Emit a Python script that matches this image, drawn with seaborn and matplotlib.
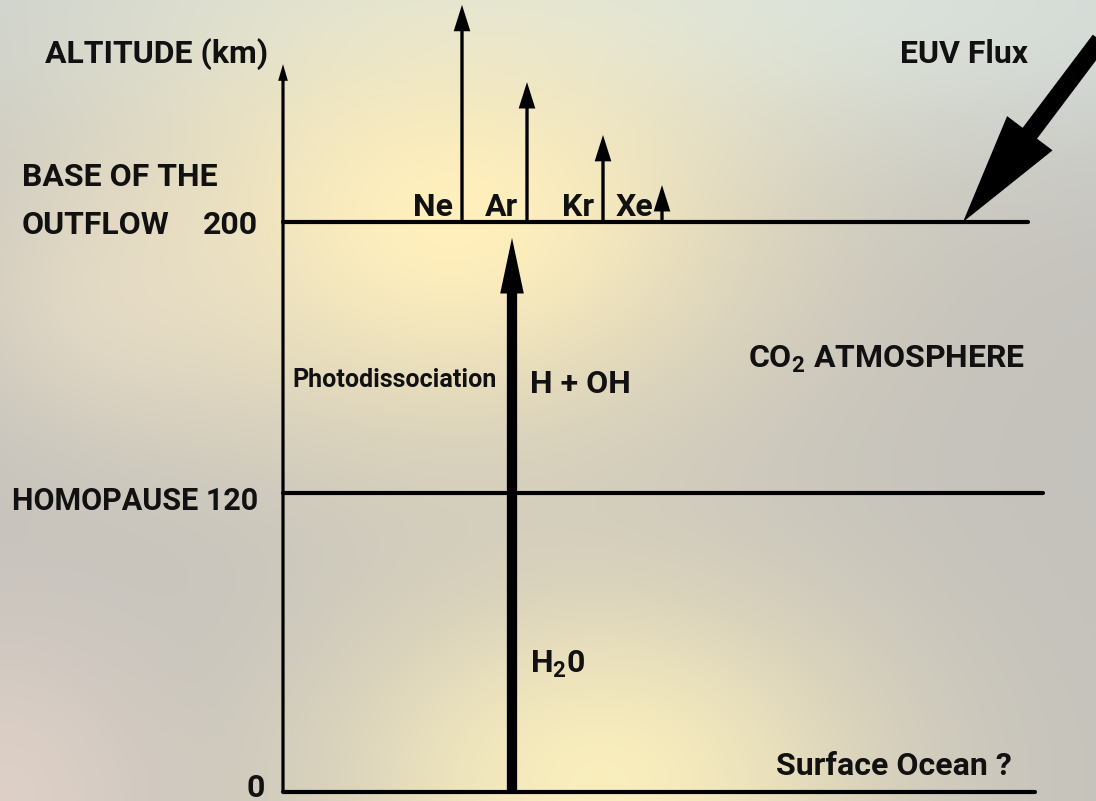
import numpy as np
import pandas as pd
import matplotlib
matplotlib.use("Agg")
import matplotlib.pyplot as plt
from matplotlib.patches import FancyArrowPatch
import seaborn as sns

# altitude levels (km)
level_alt = [0, 120, 200]
level_end = [1035, 1043, 1028]          # right end of each level line (diagram units)

# noble gas escape arrows, tip altitude above the outflow base (km, schematic)
gases = ["Ne", "Ar", "Kr", "Xe"]
gas_top = [264.1, 241.3, 225.7, 210.9]
gas_x = [462, 527, 603, 662]

# water / H arrow, axis arrow and EUV flux arrow
h2o_top = 195.3
axis_top = 246.6
euv_tail = (1100, 253.7)
euv_tip = (963, 200)

# the altitude axis in the picture is not linear: 0->0, 120->299, 200->570 px
brk_alt = np.array([0.0, 120.0, 200.0])
brk_px = np.array([0.0, 299.0, 570.0])
lo = brk_px[1] / brk_alt[1]
hi = (brk_px[2] - brk_px[1]) / (brk_alt[2] - brk_alt[1])


def fwd(a):
    a = np.asarray(a, dtype=float)
    return np.where(a < 0, a * lo,
                    np.where(a > 200, brk_px[2] + (a - 200) * hi, np.interp(a, brk_alt, brk_px)))


def inv(u):
    u = np.asarray(u, dtype=float)
    return np.where(u < 0, u / lo,
                    np.where(u > 570, 200 + (u - 570) / hi, np.interp(u, brk_px, brk_alt)))


def pos(x, ypix):
    # picture pixel row -> altitude in data units
    return x, float(inv(792 - ypix))


sns.set_theme(style="white")
plt.rcParams['font.family'] = ['Roboto', 'DejaVu Sans']
plt.rcParams['mathtext.default'] = 'regular'

W, H = 1096, 801
fig = plt.figure(figsize=(W / 100, H / 100), dpi=100)

# background wash
bg = fig.add_axes([0, 0, 1, 1], zorder=0)
yy, xx = np.mgrid[0:H, 0:W].astype(float)
img = np.ones((H, W, 3)) * np.array([0.77, 0.76, 0.74])


def blend(img, w, col):
    w = w[..., None]
    return img * (1 - w) + np.array(col) * w


img = blend(img, 0.9 * np.exp(-((xx - 700) / 900) ** 2 - (yy / 160) ** 2), (0.86, 0.90, 0.88))
img = blend(img, 1.0 * np.exp(-((xx - 450) / 320) ** 2 - ((yy - 220) / 220) ** 2), (1.0, 0.94, 0.74))
img = blend(img, 0.9 * np.exp(-((xx - 600) / 280) ** 2 - ((yy - 780) / 200) ** 2), (1.0, 0.95, 0.74))
img = blend(img, 0.6 * np.exp(-((xx - 0) / 160) ** 2 - ((yy - 800) / 180) ** 2), (0.93, 0.85, 0.80))
img = blend(img, 0.5 * np.exp(-((xx - 120) / 160) ** 2 - ((yy - 300) / 130) ** 2), (0.95, 0.90, 0.80))
bg.imshow(np.clip(img, 0, 1), aspect="auto", extent=[0, W, H, 0])
bg.set_axis_off()

ax = fig.add_axes([0, 0, 1, 1], zorder=1)
ax.patch.set_alpha(0)
ax.set_yscale("function", functions=(fwd, inv))
ax.set_xlim(0, W)
ax.set_ylim(float(inv(-9)), float(inv(792)))
ax.set_axis_off()

# level lines
lv = pd.DataFrame({
    "x": [283] * 3 + level_end,
    "alt": level_alt + level_alt,
    "level": [0, 1, 2] * 2,
})
sns.lineplot(data=lv, x="x", y="alt", units="level", estimator=None,
             color="black", lw=3.0, ax=ax, legend=False)


def arrow(p0, p1, hl, hw, tw, z=3):
    a = FancyArrowPatch(p0, p1, arrowstyle=f"simple,head_length={hl},head_width={hw},tail_width={tw}",
                        mutation_scale=1, shrinkA=0, shrinkB=0, color="black", lw=0, zorder=z)
    ax.add_patch(a)


# altitude axis
arrow((283, 0), (283, axis_top), 12, 7, 2.3)
# water rising to the outflow base
arrow((512, 0), (512, h2o_top), 40, 17, 7.4)
# noble gas escape
for gx, gt in zip(gas_x, gas_top):
    arrow((gx, 200), (gx, gt), 19, 12, 2.4)
# EUV flux
arrow(euv_tail, euv_tip, 80, 41, 13)

tb = dict(fontweight="bold", color="#111111", fontsize=23)
ax.text(*pos(268, 63), "ALTITUDE (km)", ha="right", va="baseline", **tb)
ax.text(*pos(1028, 63), "EUV Flux", ha="right", va="baseline", **tb)
ax.text(*pos(22, 186), "BASE OF THE", ha="left", va="baseline", **tb)
ax.text(*pos(22, 234), "OUTFLOW", ha="left", va="baseline", **tb)
ax.text(*pos(258, 234), "200", ha="right", va="baseline", **tb)
ax.text(*pos(258, 510), "HOMOPAUSE 120", ha="right", va="baseline",
        fontweight="bold", color="#111111", fontsize=22)
ax.text(*pos(265, 797), "0", ha="right", va="baseline", **tb)
for g, gx in zip(gases, gas_x):
    ax.text(*pos(gx - 9, 216), g, ha="right", va="baseline", **tb)
ax.text(*pos(292, 387), "Photodissociation", ha="left", va="baseline",
        fontweight="bold", color="#111111", fontsize=18)
ax.text(*pos(530, 393), "H + OH", ha="left", va="baseline", **tb)
ax.text(*pos(1025, 368), "CO$_2$ ATMOSPHERE", ha="right", va="baseline", **tb)
ax.text(*pos(530, 673), "H$_2$0", ha="left", va="baseline", **tb)
ax.text(*pos(1012, 775), "Surface Ocean ?", ha="right", va="baseline", **tb)

fig.savefig("out.png", dpi=100)
